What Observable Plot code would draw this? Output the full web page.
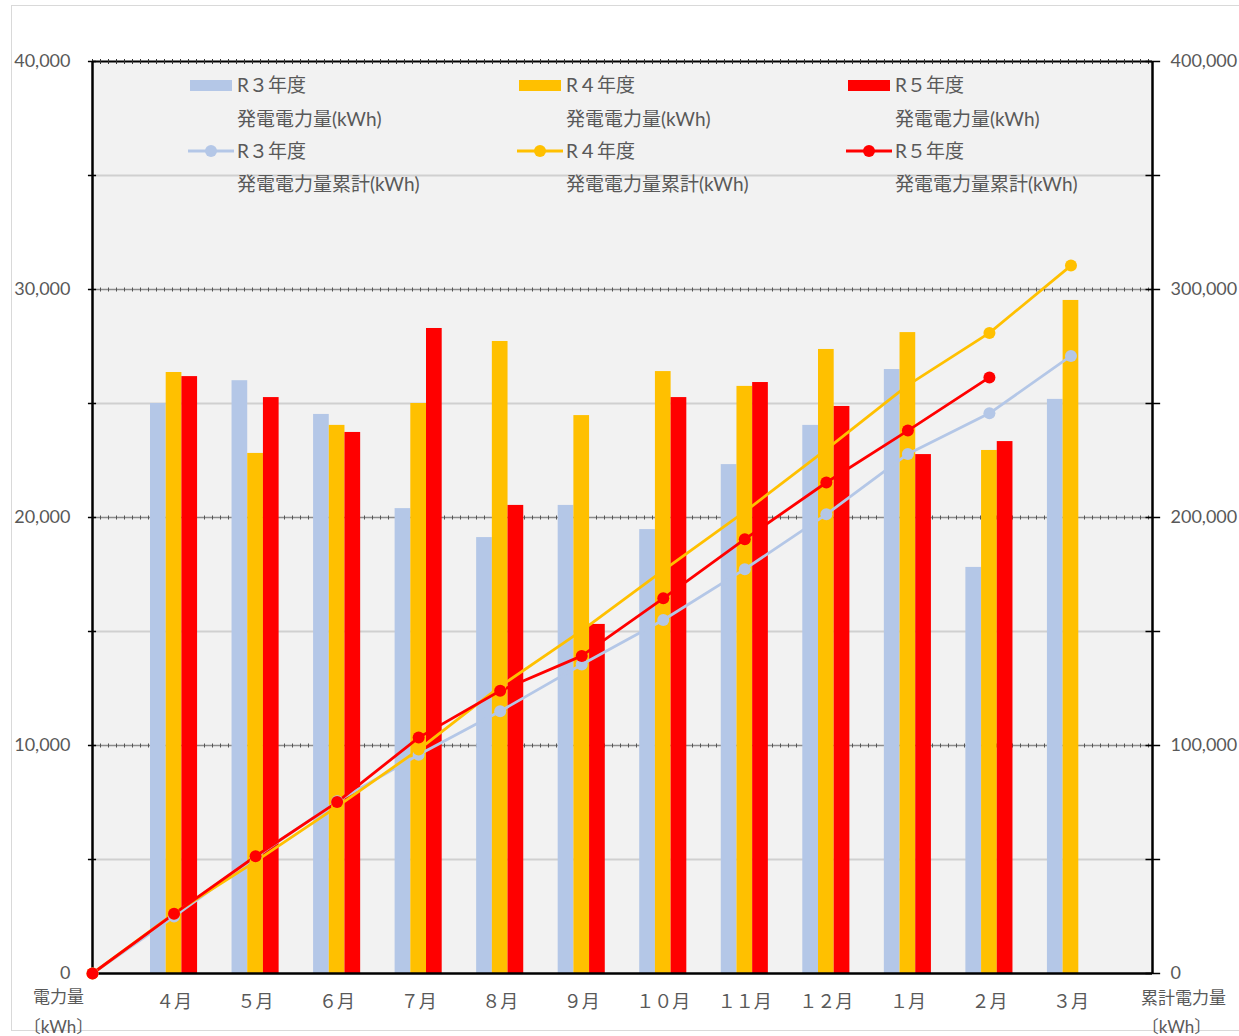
<!DOCTYPE html>
<html>
<head>
<meta charset="utf-8">
<script src="https://cdn.jsdelivr.net/npm/d3@7"></script>
<script src="https://cdn.jsdelivr.net/npm/@observablehq/plot@0.6"></script>
<style>
  html, body { margin: 0; padding: 0; background: #ffffff; }
  #wrap { position: relative; width: 1239px; height: 1036px; }
  #border { position: absolute; left: 11px; top: 5px; width: 1240px; height: 1026px; border: 1.5px solid #d9d9d9; box-sizing: border-box; pointer-events: none; }
  svg text { font-family: "Lato", "Noto Sans CJK JP", sans-serif; }
</style>
</head>
<body>
<div id="wrap"><div id="border"></div></div>
<script>
// ---- data ----
const months = ["４月", "５月", "６月", "７月", "８月", "９月", "１０月", "１１月", "１２月", "１月", "２月", "３月"];
const r3 = [25000, 26000, 24520, 20390, 19120, 20530, 19470, 22320, 24040, 26490, 17810, 25180];
const r4 = [26360, 22810, 24040, 25000, 27720, 24470, 26400, 25750, 27370, 28110, 22940, 29520];
const r5 = [26180, 25260, 23730, 28290, 20530, 15310, 25260, 25920, 24870, 22760, 23330, null];
// cumulative values (right axis), starting point 0 before 4月
const r3cum = [0, 25000, 51000, 75520, 95910, 115030, 135560, 155030, 177350, 201390, 227880, 245690, 270870];
const r4cum = [0, 26360, 49170, 73210, 98210, 125930, 150400, 176800, 202550, 229920, 258030, 280970, 310490];
const r5cum = [0, 26180, 51440, 75170, 103460, 123990, 139300, 164560, 190480, 215350, 238110, 261440];
const leftTicks = [0, 10000, 20000, 30000, 40000];
const rightTicks = [0, 100000, 200000, 300000, 400000];
const minorGrid = [5000, 15000, 25000, 35000];
const majorGrid = [10000, 20000, 30000];
const axisTicks = [0, 5000, 10000, 15000, 20000, 25000, 30000, 35000, 40000];

const seriesNames = ["R３年度", "R４年度", "R５年度"];
const colors = ["#b4c7e7", "#ffc000", "#ff0000"];

// ---- tables ----
const barW = 0.1925;
const bars = [];
[r3, r4, r5].forEach((arr, s) => arr.forEach((v, i) => {
  if (v != null) bars.push({s, i: i + 1, v});
}));
const cums = [r3cum, r4cum, r5cum].map((arr, s) => arr.map((v, i) => ({s, i, v})));

const textColor = "#595959";
const fs = 18;
const lfs = 19;

const chart = Plot.plot({
  width: 1239,
  height: 1036,
  marginLeft: 92,
  marginRight: 87,
  marginTop: 61,
  marginBottom: 63,
  x: {domain: [0, 13], axis: null},
  y: {domain: [0, 40000], axis: null},
  style: {background: "transparent", overflow: "visible"},
  marks: [
    Plot.frame({fill: "#f2f2f2", stroke: null}),
    Plot.ruleY(minorGrid, {stroke: "#d0d0d0", strokeWidth: 2}),
    Plot.ruleY(majorGrid, {stroke: "#8c8c8c", strokeWidth: 1.5}),
    Plot.ruleY(majorGrid, {stroke: "#555", strokeWidth: 4, strokeDasharray: "1 7"}),
    Plot.ruleY([40000], {stroke: "#000", strokeWidth: 2}),
    Plot.ruleY([40000], {stroke: "#333", strokeWidth: 5, strokeDasharray: "1 7"}),
    Plot.rectY(bars, {
      x1: d => d.i + (d.s - 1.5) * barW,
      x2: d => d.i + (d.s - 0.5) * barW,
      y1: 0, y2: "v",
      fill: d => colors[d.s]
    }),
    Plot.ruleX([0, 13], {y1: 0, y2: 40000, stroke: "#000", strokeWidth: 2.5}),
    Plot.ruleY([0], {stroke: "#000", strokeWidth: 2.5}),
    Plot.ruleY(axisTicks, {x1: -0.05, x2: 0.05, stroke: "#000", strokeWidth: 1.5}),
    Plot.ruleY(axisTicks, {x1: 12.92, x2: 13.1, stroke: "#000", strokeWidth: 1.5}),
    ...cums.map((arr, s) => Plot.line(arr, {x: "i", y: d => d.v / 10, stroke: colors[s], strokeWidth: 2.8})),
    ...cums.map((arr, s) => Plot.dot(arr, {x: "i", y: d => d.v / 10, r: 6, fill: colors[s], stroke: null})),
    Plot.text(months, {x: (d, i) => i + 1, y: 0, dy: 29, text: d => d, fill: textColor, fontSize: fs}),
    Plot.text(leftTicks, {x: 0, y: d => d, dx: -22, textAnchor: "end", text: d => d3.format(",")(d), fill: textColor, fontSize: fs}),
    Plot.text(rightTicks, {x: 13, y: d => d / 10, dx: 18, textAnchor: "start", text: d => d3.format(",")(d), fill: textColor, fontSize: fs}),
    Plot.text(["電力量"], {x: 0, y: 0, dx: -34, dy: 24, text: d => d, fill: textColor, fontSize: 17}),
    Plot.text(["〔kWh〕"], {x: 0, y: 0, dx: -34, dy: 54, text: d => d, fill: textColor, fontSize: 17}),
    Plot.text(["累計電力量"], {x: 13, y: 0, dx: 31, dy: 25, text: d => d, fill: textColor, fontSize: 17}),
    Plot.text(["〔kWh〕"], {x: 13, y: 0, dx: 24, dy: 54, text: d => d, fill: textColor, fontSize: 17})
  ]
});

// ---- legend inside the plot area ----
const svg = d3.select(chart);
const colX = [190, 519, 848];
const lg = svg.append("g").attr("text-anchor", "start");
seriesNames.forEach((name, s) => {
  const x0 = colX[s];
  const addText = (y, t) => lg.append("text").attr("x", x0 + 47).attr("y", y).attr("dy", "0.35em")
    .attr("text-anchor", "start").attr("font-size", lfs).attr("fill", textColor).text(t);
  lg.append("rect").attr("x", x0).attr("y", 80).attr("width", 42).attr("height", 11).attr("fill", colors[s]);
  addText(85, name);
  addText(119, "発電電力量(kWh)");
  lg.append("line").attr("x1", x0 - 2).attr("x2", x0 + 44).attr("y1", 151).attr("y2", 151).attr("stroke", colors[s]).attr("stroke-width", 2.8);
  lg.append("circle").attr("cx", x0 + 21).attr("cy", 151).attr("r", 6).attr("fill", colors[s]);
  addText(151, name);
  addText(184, "発電電力量累計(kWh)");
});

document.getElementById("wrap").appendChild(chart);
chart.style.position = "absolute";
chart.style.left = "0px";
chart.style.top = "0px";
</script>
</body>
</html>
